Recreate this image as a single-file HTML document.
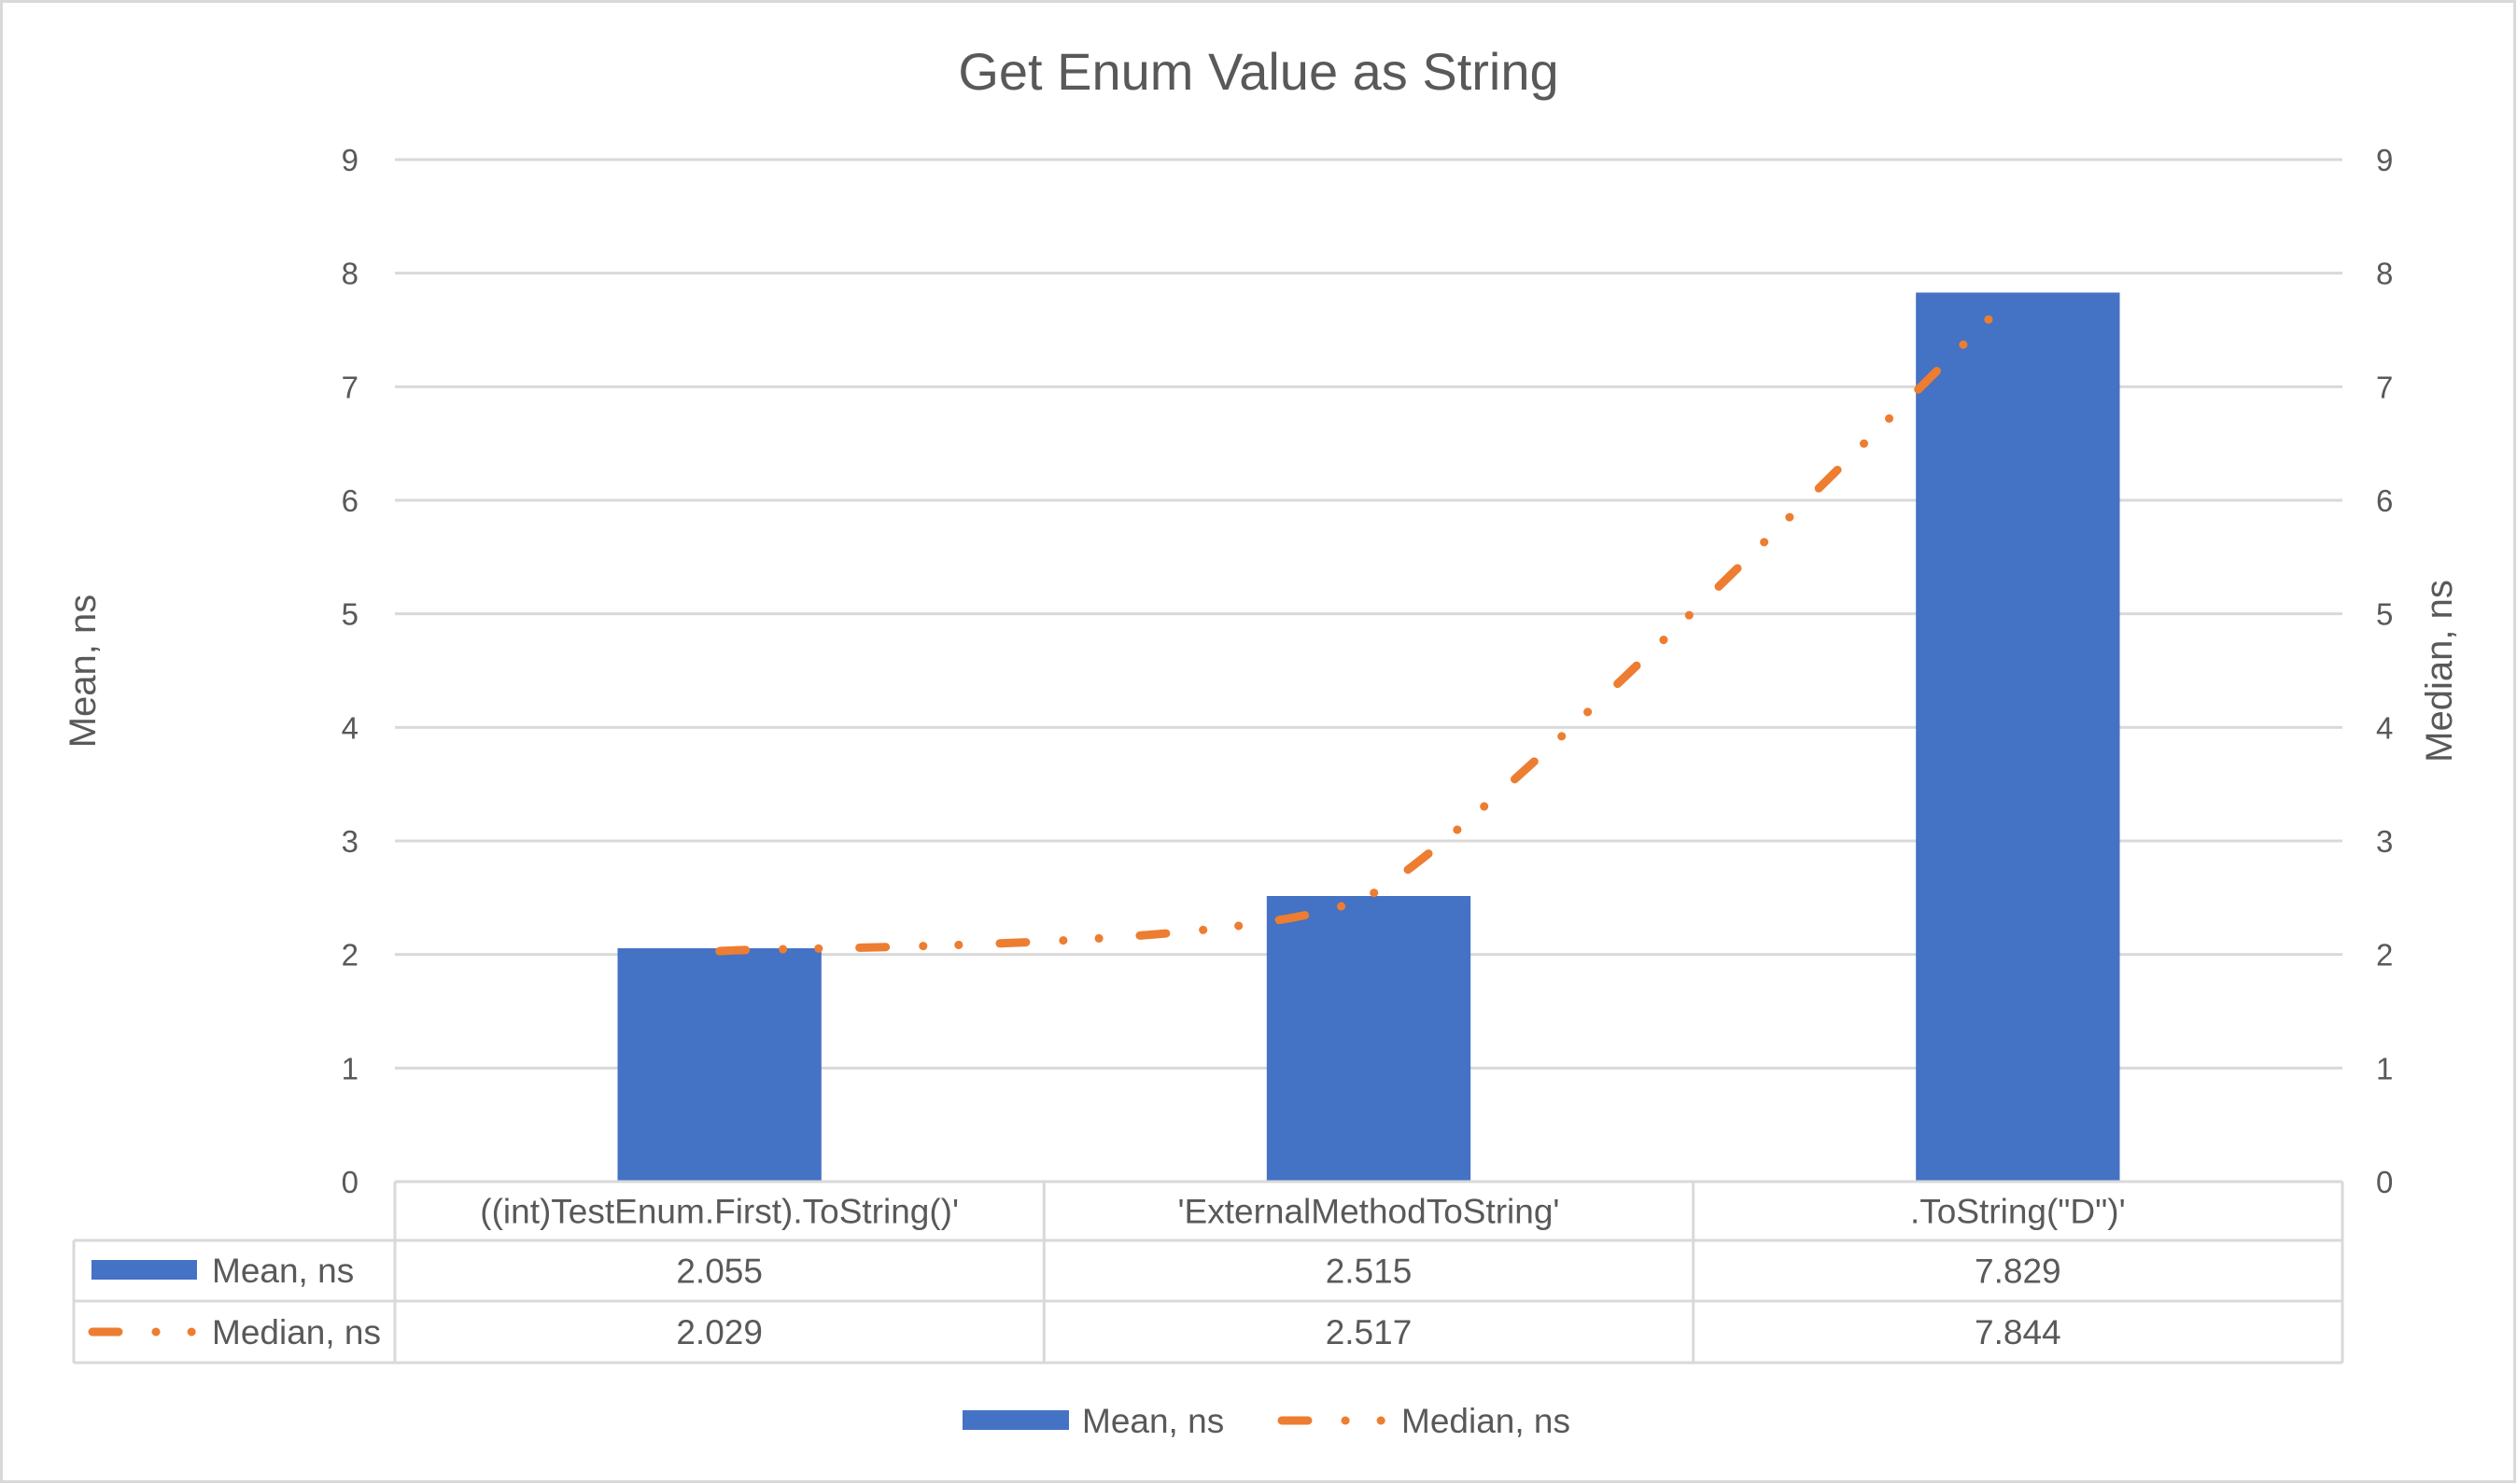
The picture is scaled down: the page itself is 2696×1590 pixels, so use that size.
<!DOCTYPE html>
<html><head><meta charset="utf-8">
<style>
html,body{margin:0;padding:0;background:#fff;}
svg{display:block;font-family:"Liberation Sans",sans-serif;}
</style></head>
<body>
<svg id="chart" width="2696" height="1590" viewBox="0 0 2696 1590" xmlns="http://www.w3.org/2000/svg">
<rect x="1.5" y="1.5" width="2692" height="1586" fill="#fff" stroke="#d9d9d9" stroke-width="3"/>
<text x="1348" y="96" font-size="56" fill="#595959" text-anchor="middle">Get Enum Value as String</text>
<g id="grid"></g>
<g id="bars"></g>
<g id="line"></g>
<g id="ticks"></g>
<g id="table"></g>
<text transform="translate(102,719) rotate(-90)" font-size="40" fill="#595959" text-anchor="middle">Mean, ns</text>
<text transform="translate(2626,719) rotate(-90)" font-size="40" fill="#595959" text-anchor="middle">Median, ns</text>
<g>
<g>
<rect x="1031" y="1511" width="114" height="21" fill="#4472C4"/>
<text x="1159" y="1535" font-size="37" fill="#595959">Mean, ns</text>
</g>
<g>
<path d="M1373 1522 H1489" stroke="#ED7D31" stroke-width="9" stroke-linecap="round" stroke-dasharray="28 40 0.1 38 0.1 44" fill="none"/>
<text x="1501" y="1535" font-size="37" fill="#595959">Median, ns</text>
</g>
</g>
</svg>
<script>
const categories = ["((int)TestEnum.First).ToString()'", "'ExternalMethodToString'", ".ToString(\"D\")'"];
const meanValues = [2.055, 2.515, 7.829];
const medianValues = [2.029, 2.517, 7.844];
const meanLabels = ["2.055", "2.515", "7.829"];
const medianLabels = ["2.029", "2.517", "7.844"];
const yTicks = [0,1,2,3,4,5,6,7,8,9];

const NS = "http://www.w3.org/2000/svg";
const plotL = 423, plotR = 2509, yTop = 171, yBot = 1266, yMax = 9;
const catW = (plotR - plotL) / categories.length;
function xC(i){ return plotL + catW*(i+0.5); }
function yS(v){ return yBot - (v/yMax)*(yBot-yTop); }
function mk(tag, attrs, parent){
  const e = document.createElementNS(NS, tag);
  for (const k in attrs) e.setAttribute(k, attrs[k]);
  parent.appendChild(e); return e;
}
const grid = document.getElementById('grid');
const ticks = document.getElementById('ticks');
yTicks.forEach(t=>{
  if (t>0) {
    const g = mk('line',{x1:plotL,x2:plotR,y1:yS(t),y2:yS(t),stroke:'#d9d9d9','stroke-width':3},grid);
    
    
  }
  const l = mk('text',{x:384,y:yS(t)+12,'font-size':33,fill:'#595959','text-anchor':'end'},ticks);
  l.textContent = t;
  
  
  const r = mk('text',{x:2545,y:yS(t)+12,'font-size':33,fill:'#595959','text-anchor':'start'},ticks);
  r.textContent = t;
  
  
});
const bars = document.getElementById('bars');
const bw = catW*0.314;
meanValues.forEach((v,i)=>{
  const b = mk('rect',{x:xC(i)-bw/2,y:yS(v),width:bw,height:yBot-yS(v),fill:'#4472C4'},bars);
  
  
});
// smooth median line (low tension, no overshoot)
const pts = medianValues.map((v,i)=>[xC(i), yS(v)]);
let d = `M${pts[0][0]} ${pts[0][1]}`;
for (let i=0;i<pts.length-1;i++){
  const p0 = pts[Math.max(0,i-1)], p1 = pts[i], p2 = pts[i+1], p3 = pts[Math.min(pts.length-1,i+2)];
  const k = 12;
  const c1 = [p1[0]+(p2[0]-p0[0])/k, p1[1]+(p2[1]-p0[1])/k];
  const c2 = [p2[0]-(p3[0]-p1[0])/k, p2[1]-(p3[1]-p1[1])/k];
  d += ` C${c1[0]} ${c1[1]} ${c2[0]} ${c2[1]} ${p2[0]} ${p2[1]}`;
}
const ln = mk('path',{d:d,fill:'none',stroke:'#ED7D31','stroke-width':9,'stroke-linecap':'round','stroke-dasharray':'28 40 0.1 38 0.1 44'},document.getElementById('line'));


// table
const tb = document.getElementById('table');
const rows = [1266,1329,1394,1460];
const tL = 79;
function hl(x1,x2,y){ const e=mk('line',{x1:x1,x2:x2,y1:y,y2:y,stroke:'#d9d9d9','stroke-width':3},tb);
    }
function vl(x,y1,y2){ const e=mk('line',{x1:x,x2:x,y1:y1,y2:y2,stroke:'#d9d9d9','stroke-width':3},tb);
    }
hl(plotL,plotR,rows[0]); hl(tL,plotR,rows[1]); hl(tL,plotR,rows[2]); hl(tL,plotR,rows[3]);
vl(tL,rows[1],rows[3]);
for (let i=0;i<=categories.length;i++) vl(plotL+catW*i,rows[0],rows[3]);
categories.forEach((c,i)=>{
  const t = mk('text',{x:xC(i),y:(rows[0]+rows[1])/2+13,'font-size':37,fill:'#595959','text-anchor':'middle'},tb);
  t.textContent = c;
  
  
  const a = mk('text',{x:xC(i),y:(rows[1]+rows[2])/2+13,'font-size':37,fill:'#595959','text-anchor':'middle'},tb);
  a.textContent = meanLabels[i];
  
  
  const m = mk('text',{x:xC(i),y:(rows[2]+rows[3])/2+13,'font-size':37,fill:'#595959','text-anchor':'middle'},tb);
  m.textContent = medianLabels[i];
  
  
});
const k1 = mk('rect',{x:98,y:1350,width:113,height:21,fill:'#4472C4'},tb);


const t1 = mk('text',{x:227,y:1374,'font-size':37,fill:'#595959'},tb);
t1.textContent = 'Mean, ns';


const k2 = mk('path',{d:'M99 1427 H210',stroke:'#ED7D31','stroke-width':9,'stroke-linecap':'round','stroke-dasharray':'28 40 0.1 38 0.1 44',fill:'none'},tb);


const t2 = mk('text',{x:227,y:1440,'font-size':37,fill:'#595959'},tb);
t2.textContent = 'Median, ns';


</script>
</body></html>
